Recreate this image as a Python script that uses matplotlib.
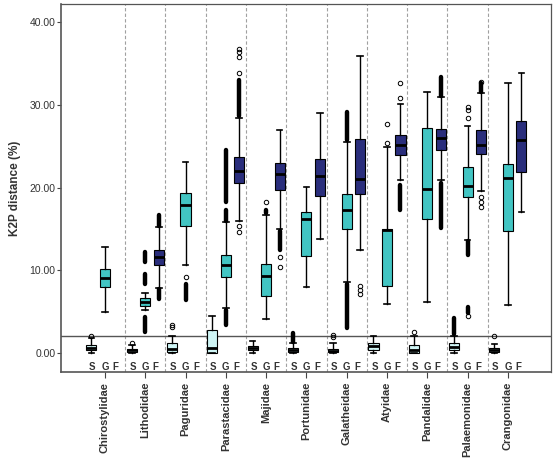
import matplotlib
matplotlib.use("Agg")
import matplotlib.pyplot as plt

plt.rcParams['font.family'] = ['Liberation Sans', 'DejaVu Sans']

families = ["Chirostylidae", "Lithodidae", "Paguridae", "Parastacidae", "Majidae",
            "Portunidae", "Galatheidae", "Atyidae", "Pandalidae", "Palaemonidae",
            "Crangonidae"]
level_labels = ["S", "G", "F"]

# S series (species level): whisker low, q1, median, q3, whisker high
s_low  = [0.05, 0.0, 0.0, 0.0, 0.05, 0.0, 0.05, 0.0, 0.05, 0.05, 0.05]
s_q1   = [0.3, 0.15, 0.15, 0.0, 0.3, 0.1, 0.1, 0.3, 0.05, 0.35, 0.1]
s_med  = [0.65, 0.3, 0.5, 0.55, 0.55, 0.3, 0.25, 0.85, 0.3, 0.75, 0.35]
s_q3   = [1.0, 0.5, 1.2, 2.8, 0.85, 0.55, 0.5, 1.25, 0.95, 1.2, 0.6]
s_high = [1.8, 1.0, 2.0, 4.5, 1.4, 1.2, 1.2, 2.1, 2.0, 2.1, 1.1]
s_out_points = [[2.0], [1.2], [3.1, 3.4], [], [], [], [1.9, 2.2], [], [2.5], [], [2.05]]
s_out_runs = [[], [], [], [], [], [(1.3, 2.4)], [], [], [], [(2.3, 4.2)], []]

# G series (genus level)
g_low  = [4.9, 5.2, 10.6, 5.4, 4.1, 8.0, 8.6, 5.9, 6.2, 13.7, 5.8]
g_q1   = [8.0, 5.7, 15.4, 9.2, 6.9, 11.7, 15.0, 8.1, 16.2, 18.9, 14.7]
g_med  = [9.1, 6.2, 17.9, 10.6, 9.3, 16.2, 17.3, 14.9, 19.8, 20.2, 21.2]
g_q3   = [10.2, 6.6, 19.4, 11.9, 10.8, 17.0, 19.2, 15.0, 27.2, 22.5, 22.9]
g_high = [12.8, 7.2, 23.1, 15.8, 16.7, 20.1, 25.5, 24.9, 31.5, 27.4, 32.7]
g_out_points = [[], [], [9.2], [], [18.3], [], [], [25.4, 27.7], [],
                [28.4, 29.4, 29.7, 4.5], []]
g_out_runs = [[], [(11.0, 12.2), (8.3, 9.6), (2.5, 4.4)], [(6.4, 8.4)],
              [(16.0, 17.3), (18.3, 24.5), (3.4, 5.2)], [(16.9, 17.3)], [],
              [(25.8, 29.2), (3.0, 8.4)], [], [], [(11.9, 13.5), (4.8, 5.6)], []]

# F series (family level); None = no data
f_low  = [None, 7.9, None, 15.9, 15.0, 13.8, 12.4, 20.9, 20.9, 19.6, 17.0]
f_q1   = [None, 10.6, None, 20.5, 19.7, 19.0, 19.2, 23.9, 24.6, 24.1, 21.9]
f_med  = [None, 11.6, None, 22.0, 21.6, 21.4, 21.0, 25.1, 26.0, 25.2, 25.8]
f_q3   = [None, 12.5, None, 23.7, 23.0, 23.5, 25.9, 26.4, 27.1, 27.0, 28.0]
f_high = [None, 15.2, None, 28.4, 27.0, 29.0, 35.9, 30.1, 30.9, 31.4, 33.8]
f_out_points = [[], [], [], [14.6, 15.3, 33.8, 35.8, 36.4, 36.8], [10.4, 11.6], [],
                [7.1, 7.6, 8.1], [30.8, 32.6], [], [32.8, 17.7, 18.2, 18.9], []]
f_out_runs = [[], [(15.4, 16.7), (6.5, 7.7)], [], [(28.6, 33.0)], [(12.5, 14.8)], [],
              [], [(17.3, 20.3)], [(31.1, 33.4), (15.1, 20.6)], [(31.6, 32.6)], []]

series = [
    (s_low, s_q1, s_med, s_q3, s_high, s_out_points, s_out_runs, "#CFF5F5", -0.335),
    (g_low, g_q1, g_med, g_q3, g_high, g_out_points, g_out_runs, "#42C5C3", 0.0),
    (f_low, f_q1, f_med, f_q3, f_high, f_out_points, f_out_runs, "#2A2E7C", 0.335),
]

fig = plt.figure(figsize=(5.57, 4.63), dpi=100)
ax = fig.add_axes([61/557, 1-372/463, 490/557, 368/463])

for i in range(len(families) - 1):
    ax.axvline(i + 0.5, color="#A0A0A0", lw=0.8, ls=(0, (3, 2)), zorder=0)

for lo_, q1_, md_, q3_, hi_, pts_, runs_, col, off in series:
    stats, pos = [], []
    for i in range(len(families)):
        if lo_[i] is None:
            continue
        stats.append(dict(whislo=lo_[i], q1=q1_[i], med=md_[i], q3=q3_[i],
                          whishi=hi_[i], fliers=pts_[i]))
        pos.append(i + off)
    ax.bxp(stats, positions=pos, widths=0.25, patch_artist=True, capwidths=0.14,
           boxprops=dict(facecolor=col, edgecolor="black", linewidth=0.8),
           medianprops=dict(color="black", linewidth=2.0),
           whiskerprops=dict(color="black", linewidth=1.0),
           capprops=dict(color="black", linewidth=1.2),
           flierprops=dict(marker="o", markerfacecolor="none", markeredgecolor="black",
                           markersize=3.2, markeredgewidth=0.7),
           manage_ticks=False)
    for i in range(len(families)):
        for lo, hi in runs_[i]:
            ax.plot([i + off, i + off], [lo, hi], color="black", lw=3.2,
                    solid_capstyle="round", zorder=3)

ax.axhline(2.0, color="#555555", lw=1.0, zorder=1)

label_offsets = [-0.31, 0.0, 0.26]
for i in range(len(families)):
    for lab, off in zip(level_labels, label_offsets):
        ax.text(i + off, -1.7, lab, ha="center", va="center", fontsize=7,
                fontweight="bold", color="#333333")

ax.set_xlim(-1.09, 11.07)
ax.set_ylim(-2.3, 42.2)
ax.set_yticks([0, 10, 20, 30, 40])
ax.set_yticklabels([f"{v:.2f}" for v in [0, 10, 20, 30, 40]], fontsize=7.5, color="#333333")
ax.set_xticks(range(len(families)))
ax.set_xticklabels(families, rotation=90, fontsize=8, fontweight="bold", color="#333333")
ax.tick_params(axis="y", length=3, width=0.8, pad=1, color="#444444")
ax.tick_params(axis="x", length=4, width=0.8, pad=3, color="#444444")
ax.set_ylabel("K2P distance (%)", fontsize=8.5, fontweight="bold", color="#333333", labelpad=6)
for sp in ax.spines.values():
    sp.set_color("#555555")
    sp.set_linewidth(0.9)
ax.spines["left"].set_linewidth(1.2)
ax.spines["bottom"].set_linewidth(1.2)

fig.savefig("out.png", dpi=100)
